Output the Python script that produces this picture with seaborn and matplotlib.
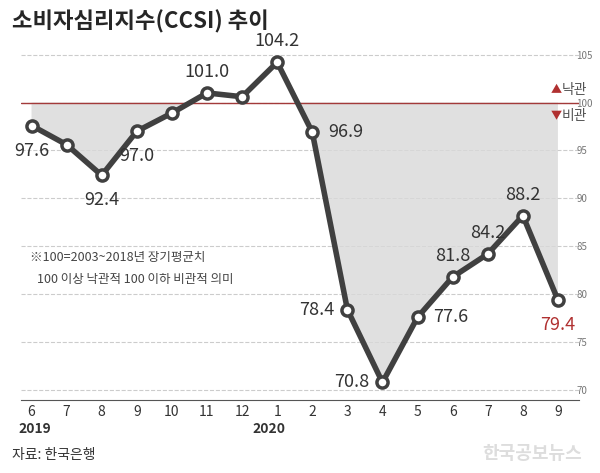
import numpy as np
import pandas as pd
import matplotlib.pyplot as plt
import seaborn as sns

sns.set_style('white')
plt.rcParams['font.family'] = ['Noto Sans CJK KR', 'Noto Sans CJK JP', 'DejaVu Sans']

months = ['6', '7', '8', '9', '10', '11', '12', '1', '2', '3', '4', '5', '6', '7', '8', '9']
ccsi = [97.6, 95.6, 92.4, 97.0, 98.9, 101.0, 100.6, 104.2, 96.9, 78.4, 70.8, 77.6, 81.8, 84.2, 88.2, 79.4]
labels = ['97.6', '', '92.4', '97.0', '', '101.0', '', '104.2', '96.9', '78.4', '70.8', '77.6', '81.8', '84.2', '88.2', '79.4']
label_pos = ['below', '', 'below', 'below', '', 'above', '', 'above', 'right', 'left', 'left', 'right', 'above', 'above', 'above', 'below']

df = pd.DataFrame({'x': np.arange(len(months)), 'ccsi': ccsi})

fig = plt.figure(figsize=(6.0, 4.73), dpi=100)
ax = fig.add_axes([0.035, 0.155, 0.93, 0.76])

ax.fill_between(df['x'], df['ccsi'], 100, where=df['ccsi'] <= 100, interpolate=True,
                color='#d9d9d9', alpha=0.8, linewidth=0)
ax.axhline(100, color='#a33a3a', linewidth=1)
sns.lineplot(data=df, x='x', y='ccsi', ax=ax, color='#404040', linewidth=4,
             marker='o', markersize=8, markerfacecolor='white', markeredgecolor='#404040',
             markeredgewidth=2.5)

offsets = {'below': (0, -18), 'above': (0, 15), 'left': (-22, 0), 'right': (24, 0)}
for i, (v, t, p) in enumerate(zip(ccsi, labels, label_pos)):
    if not t:
        continue
    col = '#b03030' if i == len(ccsi) - 1 else '#333333'
    ax.annotate(t, (i, v), xytext=offsets[p], textcoords='offset points', ha='center', va='center',
                fontsize=13, color=col)

ax.set_ylim(69, 106.5)
ax.set_xlim(-0.3, 15.6)
ax.set_yticks([70, 75, 80, 85, 90, 95, 100, 105])
ax.yaxis.tick_right()
ax.tick_params(axis='y', length=0, labelsize=7, colors='#777777', pad=-2)
ax.grid(axis='y', linestyle='--', color='#cccccc', linewidth=0.8)
ax.set_xticks(df['x'])
ax.set_xticklabels(months)
ax.tick_params(axis='x', length=0, labelsize=10, colors='#333333')
ax.set_xlabel('')
ax.set_ylabel('')
for s in ['top', 'right', 'left']:
    ax.spines[s].set_visible(False)
ax.spines['bottom'].set_color('#555555')

ax.text(15.1, 101.3, '▲', color='#b03030', fontsize=8, ha='right', va='center')
ax.text(15.1, 101.3, '낙관', color='#555555', fontsize=10, ha='left', va='center')
ax.text(15.1, 98.6, '▼', color='#b03030', fontsize=8, ha='right', va='center')
ax.text(15.1, 98.6, '비관', color='#555555', fontsize=10, ha='left', va='center')

ax.text(-0.05, 83.5, '※100=2003~2018년 장기평균치', fontsize=9, color='#444444')
ax.text(0.15, 81.2, '100 이상 낙관적 100 이하 비관적 의미', fontsize=9, color='#444444')

fig.text(0.02, 0.955, '소비자심리지수(CCSI) 추이', fontsize=16, fontweight='bold', va='center')
fig.text(0.03, 0.085, '2019', fontsize=10, fontweight='bold', color='#333333')
fig.text(0.42, 0.085, '2020', fontsize=10, fontweight='bold', color='#333333')
fig.text(0.02, 0.03, '자료: 한국은행', fontsize=10, color='#333333')
fig.text(0.97, 0.03, '한국공보뉴스', fontsize=13, color='#dddddd', ha='right', fontweight='bold')

fig.savefig('out.png', dpi=100, facecolor='white')
